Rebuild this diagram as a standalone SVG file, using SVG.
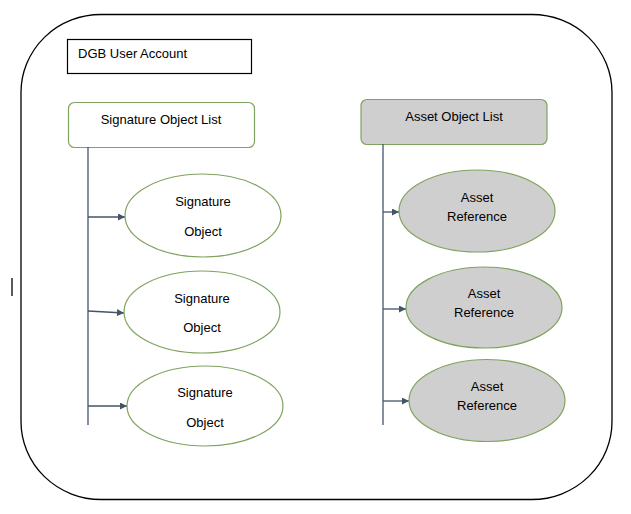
<svg xmlns="http://www.w3.org/2000/svg" width="631" height="514" viewBox="0 0 631 514">
<style>
text{font-family:"Liberation Sans",Arial,sans-serif;font-size:13px;fill:#000;text-anchor:middle}
.g{stroke:#7fa35e;stroke-width:1.2}
.w{fill:#fff}
.gr{fill:#d0cfcf}
.c{stroke:#44546a;stroke-width:1.3;fill:none}
</style>
<defs>
<marker id="ah" viewBox="0 0 10 10" refX="10" refY="5" markerWidth="7" markerHeight="7" markerUnits="userSpaceOnUse" orient="auto">
<path d="M0,0 L10,5 L0,10 Z" fill="#44546a"/>
</marker>
</defs>
<rect x="0" y="0" width="631" height="514" fill="#fff"/>
<g id="container">
<rect x="21" y="14.5" width="591" height="485" rx="80" ry="78" fill="none" stroke="#000" stroke-width="1.3"/>
</g>
<line x1="12" y1="278" x2="12" y2="296" stroke="#000" stroke-width="1.3"/>
<g id="account">
<rect x="67.5" y="39.5" width="184" height="34" fill="#fff" stroke="#000" stroke-width="1.2"/>
<text x="78" y="58" style="text-anchor:start">DGB User Account</text>
</g>
<g id="sigList">
<rect x="68.5" y="102.5" width="186" height="45" rx="6" class="g w"/>
<text x="161" y="124">Signature Object List</text>
</g>
<g id="assetList">
<rect x="361" y="99.5" width="186" height="45" rx="6" class="g gr"/>
<text x="454" y="121">Asset Object List</text>
</g>
<g id="connectors">
<line x1="88" y1="147" x2="88" y2="425" class="c"/>
<line x1="383" y1="144" x2="383" y2="425" class="c"/>
<line x1="88" y1="217" x2="125" y2="217" class="c" marker-end="url(#ah)"/>
<line x1="88" y1="311" x2="124" y2="313" class="c" marker-end="url(#ah)"/>
<line x1="88" y1="406" x2="127" y2="406" class="c" marker-end="url(#ah)"/>
<line x1="383" y1="212" x2="399" y2="212" class="c" marker-end="url(#ah)"/>
<line x1="383" y1="309" x2="406" y2="309" class="c" marker-end="url(#ah)"/>
<line x1="383" y1="401" x2="409" y2="401" class="c" marker-end="url(#ah)"/>
</g>
<g id="sig1">
<ellipse cx="203" cy="215.5" rx="78" ry="41.5" class="g w"/>
<text x="203" y="206">Signature</text>
<text x="203" y="236">Object</text>
</g>
<g id="sig2">
<ellipse cx="202" cy="312" rx="78" ry="41" class="g w"/>
<text x="202" y="303">Signature</text>
<text x="202" y="332">Object</text>
</g>
<g id="sig3">
<ellipse cx="205" cy="406" rx="78" ry="40" class="g w"/>
<text x="205" y="397">Signature</text>
<text x="205" y="427">Object</text>
</g>
<g id="asset1">
<ellipse cx="477" cy="211" rx="78" ry="41" class="g gr"/>
<text x="477" y="202">Asset</text>
<text x="477" y="221">Reference</text>
</g>
<g id="asset2">
<ellipse cx="484" cy="307.5" rx="78" ry="40.5" class="g gr"/>
<text x="484" y="298">Asset</text>
<text x="484" y="317">Reference</text>
</g>
<g id="asset3">
<ellipse cx="487" cy="400.5" rx="78" ry="41" class="g gr"/>
<text x="487" y="391">Asset</text>
<text x="487" y="410">Reference</text>
</g>
</svg>
